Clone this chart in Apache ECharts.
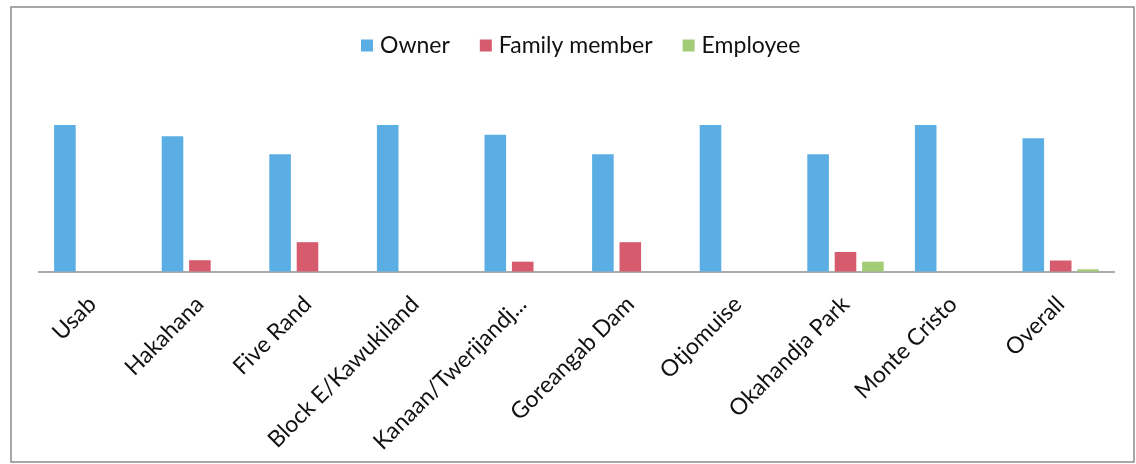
<!DOCTYPE html>
<html>
<head>
<meta charset="utf-8">
<style>
  html, body { margin: 0; padding: 0; background: #fff; }
  #chart { width: 1136px; height: 464px; }
</style>
<script src="https://cdn.jsdelivr.net/npm/echarts@6/dist/echarts.min.js"></script>
</head>
<body>
<div id="chart"></div>
<script>
// Who runs the business, share of respondents per area (%)
const areas = ['Usab', 'Hakahana', 'Five Rand', 'Block E/Kawukiland', 'Kanaan/Twerijandj...',
  'Goreangab Dam', 'Otjomuise', 'Okahandja Park', 'Monte Cristo', 'Overall'];
const owner = [100, 92.3, 80, 100, 93.3, 80, 100, 80, 100, 91];
const familyMember = [0, 7.7, 20, 0, 6.7, 20, 0, 13.3, 0, 7.5];
const employee = [0, 0, 0, 0, 0, 0, 0, 6.7, 0, 1.5];

const FONT = 'Lato, "Open Sans", sans-serif';

const chart = echarts.init(document.getElementById('chart'), null, { renderer: 'canvas' });

function barSeries(name, data, color) {
  return {
    name: name,
    type: 'bar',
    data: data,
    barGap: '27%',
    barCategoryGap: '29%',
    itemStyle: { color: color, borderWidth: 0 }
  };
}

chart.setOption({
  animation: false,
  backgroundColor: '#fff',
  textStyle: { fontFamily: FONT },
  graphic: [{
    type: 'rect',
    shape: { x: 11, y: 7, width: 1123, height: 455 },
    style: { fill: 'none', stroke: '#8a8a8a', lineWidth: 1.5 },
    silent: true
  }],
  legend: {
    left: 356,
    top: 29,
    itemWidth: 12,
    itemHeight: 12,
    itemGap: 30,
    icon: 'rect',
    textStyle: { fontFamily: FONT, fontSize: 23, color: '#111', padding: [0, 0, 0, 2] },
    data: ['Owner', 'Family member', 'Employee']
  },
  grid: { left: 38.5, right: 21.5, top: 125, bottom: 192.5, containLabel: false },
  xAxis: {
    type: 'category',
    data: areas,
    axisTick: { show: false },
    axisLine: { lineStyle: { color: '#8f8f8f', width: 1.5 } },
    axisLabel: {
      rotate: 45,
      interval: 0,
      margin: 29,
      fontFamily: FONT,
      fontSize: 23,
      color: '#111'
    }
  },
  yAxis: {
    type: 'value',
    min: 0,
    max: 100,
    show: false,
    splitLine: { show: false }
  },
  series: [
    barSeries('Owner', owner, '#5aaee3'),
    barSeries('Family member', familyMember, '#d65b6c'),
    barSeries('Employee', employee, '#a3cc77')
  ]
});
</script>
</body>
</html>
